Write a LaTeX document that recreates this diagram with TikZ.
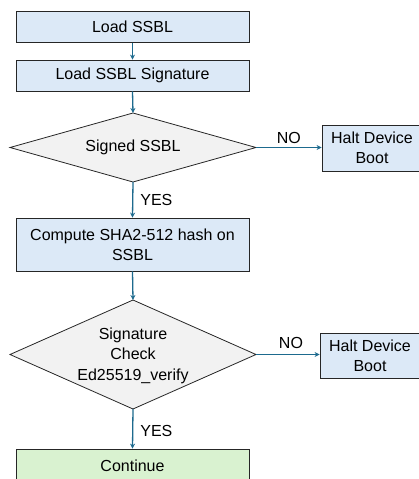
\documentclass[tikz,border=0pt]{standalone}
\usepackage{fontspec}
\setmainfont{Liberation Sans}
\usetikzlibrary{arrows.meta}
\definecolor{stepblue}{HTML}{DCE9F7}
\definecolor{okgreen}{HTML}{D9F2D0}
\definecolor{decgray}{HTML}{F2F2F2}
\definecolor{flowline}{HTML}{1D6A8E}
\definecolor{edgegray}{HTML}{262626}
\tikzset{
  stepbox/.style={draw=edgegray, line width=0.8pt, fill=stepblue, rectangle,
    inner sep=0pt, align=center, font=\fontsize{16}{20}\selectfont},
  okbox/.style={stepbox, fill=okgreen},
  decision/.style={draw=edgegray, line width=0.8pt, fill=decgray, line join=miter},
  dtext/.style={inner sep=0pt, align=center, font=\fontsize{16}{20.5}\selectfont},
  flow/.style={draw=flowline, line width=1.3pt, -{Stealth[length=5pt,width=5pt]}},
  lbl/.style={font=\fontsize{16}{18}\selectfont, inner sep=0pt}
}
\begin{document}
\begin{tikzpicture}[x=1pt,y=-1pt]
  \useasboundingbox (0,0) rectangle (419,479);
  % main column
  \node[stepbox, minimum width=233pt, minimum height=31pt] (load) at (132.5,27) {Load SSBL};
  \node[stepbox, minimum width=233pt, minimum height=31pt] (sig) at (132.5,75.5) {Load SSBL Signature};
  % first decision
  \coordinate (sa-n) at (133,113);
  \coordinate (sa-e) at (256,147.5);
  \coordinate (sa-s) at (133,182);
  \coordinate (sa-w) at (10,147.5);
  \draw[decision] (sa-n) -- (sa-e) -- (sa-s) -- (sa-w) -- cycle;
  \node[dtext] (signed) at (133,147.5) {Signed SSBL};
  \node[stepbox, minimum width=233pt, minimum height=53pt] (hash) at (132.5,244.5) {Compute SHA2-512 hash on\\SSBL};
  % second decision
  \coordinate (sb-n) at (133,300);
  \coordinate (sb-e) at (256,354.5);
  \coordinate (sb-s) at (133,409);
  \coordinate (sb-w) at (10,354.5);
  \draw[decision] (sb-n) -- (sb-e) -- (sb-s) -- (sb-w) -- cycle;
  \node[dtext] (check) at (133,355.5) {Signature\\Check\\Ed25519\_verify};
  \node[okbox, minimum width=233pt, minimum height=33pt] (cont) at (132.5,465.5) {Continue};
  % failure branches
  \node[stepbox, minimum width=100pt, minimum height=46pt] (halta) at (372,148) {Halt Device\\Boot};
  \node[stepbox, minimum width=100pt, minimum height=45pt] (haltb) at (370,355.5) {Halt Device\\Boot};
  % connectors
  \draw[flow] (load.south) -- (sig.north);
  \draw[flow] (sig.south) -- (sa-n);
  \draw[flow] (sa-s) -- (hash.north) node[lbl, pos=0.5, anchor=west, xshift=7pt] (yesa) {YES};
  \draw[flow] (hash.south) -- (sb-n);
  \draw[flow] (sb-s) -- (cont.north) node[lbl, pos=0.55, anchor=west, xshift=7pt] (yesb) {YES};
  \draw[flow] (sa-e) -- (sa-e -| halta.west) node[lbl, pos=0.5, above, yshift=3pt] (noa) {NO};
  \draw[flow] (sb-e) -- (sb-e -| haltb.west) node[lbl, pos=0.55, above, yshift=5pt] (nob) {NO};
\end{tikzpicture}
\end{document}
